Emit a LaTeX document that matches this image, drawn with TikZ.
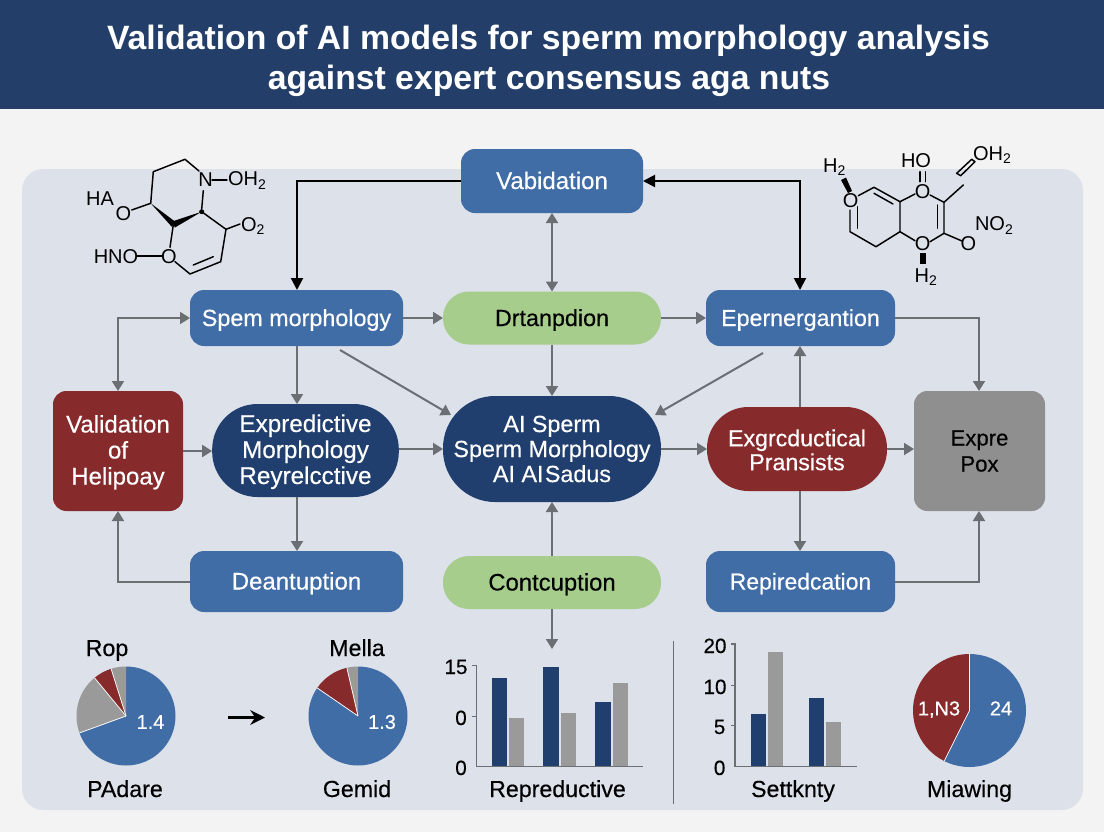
\documentclass[tikz,border=0pt]{standalone}
\usepackage{fontspec}
\setmainfont{Liberation Sans}
\newfontfamily\medfont[FakeBold=0.35]{Liberation Sans}
\usetikzlibrary{arrows.meta}
\definecolor{bgpage}{HTML}{F3F3F3}
\definecolor{panel}{HTML}{DCE1EA}
\definecolor{banner}{HTML}{223E69}
\definecolor{cblue}{HTML}{416DA7}
\definecolor{cnavy}{HTML}{213F6E}
\definecolor{cred}{HTML}{872A2C}
\definecolor{cgreen}{HTML}{A6CD8C}
\definecolor{cgray}{HTML}{8F8F8F}
\definecolor{cline}{HTML}{6B6E73}
\definecolor{cbar}{HTML}{9A9A9A}
\newcommand{\tf}[2]{\medfont\fontsize{#1}{#2}\selectfont}
\newcommand{\plainfont}[1]{\fontsize{#1}{#1}\selectfont}
\newcommand{\piewedge}[6]{\fill[#6] (#1,#2) -- +(#4:#3) arc (#4:#5:#3) -- cycle;}
\newcommand{\pieedge}[4]{\draw[white!70!panel,line width=0.6pt] (#1,#2) -- +(#4:#3);}
\tikzset{
 every node/.style={inner sep=0pt,outer sep=0pt},
 oneline/.style={text height=12pt,text depth=0pt},
 bluebox/.style={fill=cblue,text=white,rounded corners=10.5pt,oneline},
 greenpill/.style={fill=cgreen,text=black,rounded corners=19.5pt,oneline},
 multibox/.style={text=white,align=center,rounded corners=10pt},
 blackconn/.style={draw=black,line width=1.5pt,-{Triangle[length=9pt,width=9pt]}},
 blackdbl/.style={draw=black,line width=1.5pt,{Triangle[length=9pt,width=9pt]}-{Triangle[length=9pt,width=9pt]}},
 grayconn/.style={draw=cline,line width=1.5pt,-{Triangle[length=7.5pt,width=9pt]}},
 graydbl/.style={draw=cline,line width=1.5pt,{Triangle[length=7.5pt,width=9pt]}-{Triangle[length=7.5pt,width=9pt]}},
 mol/.style={draw=black,line width=1.1pt,line cap=round,line join=round},
 moltxt/.style={font=\plainfont{15}\selectfont,text=black},
 chartlab/.style={font=\tf{17.4}{17.5},text=black,oneline},
 ticklab/.style={font=\tf{15.5}{16},text=black,oneline},
 pieval/.style={font=\tf{15}{15},text=white,text height=11pt,text depth=0pt},
 axisline/.style={draw=cline,line width=0.9pt},
}
\begin{document}
\begin{tikzpicture}[x=0.75pt,y=-0.75pt]
\useasboundingbox (0,0) rectangle (1104,832);
\fill[bgpage] (0,0) rectangle (1104,832);
\fill[banner] (0,0) rectangle (1104,109);
\fill[panel,rounded corners=16pt] (22,169) rectangle (1083,810);
\node[text=white,font=\plainfont{25.3}\selectfont\bfseries,text height=18pt,text depth=0pt] (title1) at (548.5,37) {Validation of AI models for sperm morphology analysis};
\node[text=white,font=\plainfont{25.3}\selectfont\bfseries,text height=18pt,text depth=0pt] (title2) at (549,77) {against expert consensus aga nuts};

% main nodes
\node[bluebox,font=\tf{18}{19.5},minimum width=136.5pt,minimum height=48pt] (val) at (552,181) {Vabidation};
\node[bluebox,font=\tf{17.5}{19.5},minimum width=159.75pt,minimum height=42pt] (sperm) at (296.5,318) {Spem morphology};
\node[greenpill,font=\tf{17.5}{19.5},minimum width=163.5pt,minimum height=39.75pt] (drt) at (552,318) {Drtanpdion};
\node[bluebox,font=\tf{17.4}{19.5},minimum width=141.75pt,minimum height=42pt] (epe) at (800.5,318) {Epernergantion};
\node[multibox,fill=cred,font=\tf{18}{19.5},minimum width=97.5pt,minimum height=90pt] (vhl) at (118,451) {\rule{0pt}{15pt}Validation\\of\\Helipoay};
\node[multibox,fill=cnavy,rounded corners=34pt,font=\tf{18.2}{19.5},minimum width=140pt,minimum height=69.75pt] (exp) at (305.5,450.5) {\rule{0pt}{15pt}Expredictive\\Morphology\\Reyrelcctive};
\node[multibox,fill=cnavy,rounded corners=39pt,font=\tf{17.5}{18.75},minimum width=163.5pt,minimum height=79.5pt] (ais) at (552,449) {AI Sperm\\Sperm Morphology\\AI AI\kern1pt Sadus};
\node[multibox,fill=cred,rounded corners=31pt,font=\tf{17.4}{18},minimum width=135pt,minimum height=63pt] (exg) at (797,449) {\rule{0pt}{14pt}Exgrcductical\\Pransists};
\node[multibox,fill=cgray,text=black,font=\tf{16.6}{19.5},minimum width=98.25pt,minimum height=90pt] (pox) at (979.5,451) {Expre\\Pox};
\node[bluebox,font=\tf{18}{19.5},minimum width=159.75pt,minimum height=45.75pt] (dea) at (296.5,581.5) {Deantuption};
\node[greenpill,font=\tf{17.9}{19.5},minimum width=163.5pt,minimum height=39.75pt] (con) at (552,582.5) {Contcuption};
\node[bluebox,font=\tf{17.2}{19.5},minimum width=141.75pt,minimum height=45.75pt] (rep) at (800.5,581.5) {Repiredcation};

% free ends
\coordinate (cdown) at (552,649);
\coordinate (vl) at (297,181);
\coordinate (vr) at (800,181);
\coordinate (sl) at (118,318);
\coordinate (er) at (979,318);
\coordinate (dl) at (118,581.5);
\coordinate (rr) at (979,581.5);
\coordinate (sd) at (340,350);
\coordinate (ad) at (451,415);
\coordinate (ed) at (763,353);
\coordinate (bd) at (655,415);

% connectors
\draw[blackconn] (val.west) -- (vl) -- (vl |- sperm.north);
\draw[blackdbl] (val.east) -- (vr) -- (vr |- epe.north);
\draw[graydbl] (val.south) -- (drt.north);
\draw[grayconn] (sperm.east) -- (drt.west);
\draw[grayconn] (drt.east) -- (epe.west);
\draw[grayconn] (epe.east) -- (er) -- (er |- pox.north);
\draw[graydbl] (sperm.west) -- (sl) -- (sl |- vhl.north);
\draw[grayconn] (vl |- sperm.south) -- (vl |- exp.north);
\draw[grayconn] (sd) -- (ad);
\draw[grayconn] (drt.south) -- (ais.north);
\draw[grayconn] (ed) -- (bd);
\draw[grayconn] (vr |- exg.north) -- (vr |- epe.south);
\draw[grayconn] (vhl.east) -- (vhl.east -| exp.west);
\draw[grayconn] (ais.west -| exp.east) -- (ais.west);
\draw[grayconn] (ais.east) -- (exg.west);
\draw[grayconn] (exg.east) -- (exg.east -| pox.west);
\draw[grayconn] (vl |- exp.south) -- (vl |- dea.north);
\draw[grayconn] (con.north) -- (ais.south);
\draw[grayconn] (vr |- exg.south) -- (vr |- rep.north);
\draw[grayconn] (dea.west) -- (dl) -- (dl |- vhl.south);
\draw[grayconn] (rep.east) -- (rr) -- (rr |- pox.south);
\draw[grayconn] (con.south) -- (cdown);

% left molecule
\draw[mol] (131.7,210) -- (150.7,203.3) -- (153.3,171.7) -- (185,159.3) -- (199,171);
\draw[mol] (203.3,190.7) -- (201.7,209);
\fill (150.7,203.3) -- (175,221.5) -- (172,227) -- cycle;
\fill (201.7,211.7) -- (172,221.5) -- (175,227.5) -- cycle;
\fill (201.7,211.7) circle (2.5);
\draw[mol] (201.7,211.7) -- (226,229.3) -- (240,224);
\draw[mol] (226,229.3) -- (220.7,261.7) -- (190,274) -- (175,261.7);
\draw[mol] (213.3,256.7) -- (193.3,265);
\draw[mol] (173.3,225) -- (170,247.3);
\draw[mol] (137.3,256) -- (161.7,256);
\draw[mol] (212,180) -- (227,180);
\node[moltxt] (mN) at (205.5,180) {N};
\node[moltxt,anchor=west] (mOH) at (228,180.5) {OH\textsubscript{2}};
\node[moltxt] (mHA) at (100,199) {HA};
\node[moltxt] (mO1) at (123.5,213.5) {O};
\node[moltxt,anchor=west] (mO2) at (241,226) {O\textsubscript{2}};
\node[moltxt] (mO3) at (169,256.5) {O};
\node[moltxt] (mHNO) at (116,256.5) {HNO};

% right molecule
\fill (841,180) -- (846,177.5) -- (852,191) -- (848,193) -- cycle;
\draw[mol] (858.3,195.7) -- (874,187.3) -- (900,201.7) -- (915,194);
\draw[mol] (874,193.3) -- (893,204);
\draw[mol] (919.8,171.7) -- (919.8,181.7);
\draw[mol] (925.5,171.7) -- (925.5,181.7);
\draw[mol] (930,195) -- (944,202.3) -- (963.3,185);
\draw[mol] (956.7,173.3) -- (971.7,159.3) -- (975,161.7) -- (960.7,175.7) -- cycle;
\draw[mol] (944,202.3) -- (944,233.3) -- (930,241.7);
\draw[mol] (937.3,205) -- (937.3,228.3);
\draw[mol] (915,240.7) -- (900,231.7) -- (900,201.7);
\draw[mol] (900,231.7) -- (876,246.7) -- (850,231.7) -- (850,210);
\draw[mol] (857.3,228.3) -- (857.3,206.7);
\draw[mol] (944,233.3) -- (962,241);
\fill (920,253.3) rectangle (925.5,264);
\node[moltxt] (rH2a) at (834.5,167.5) {H\textsubscript{2}};
\node[moltxt] (rO1) at (850.7,201) {O};
\node[moltxt] (rHO) at (916,160.7) {HO};
\node[moltxt] (rO2) at (922.7,191.5) {O};
\node[moltxt,anchor=west] (rOH) at (973,155) {OH\textsubscript{2}};
\node[moltxt] (rO3) at (922.7,244) {O};
\node[moltxt] (rO4) at (968.3,244) {O};
\node[moltxt,anchor=west] (rNO) at (975,225.5) {NO\textsubscript{2}};
\node[moltxt] (rH2b) at (926,277) {H\textsubscript{2}};

% pies
\piewedge{126}{716}{49.5}{-90}{160}{cblue}
\piewedge{126}{716}{49.5}{160}{230.5}{cbar}
\piewedge{126}{716}{49.5}{230.5}{252.5}{cred}
\piewedge{126}{716}{49.5}{252.5}{270}{cbar}
\pieedge{126}{716}{49.5}{160}
\pieedge{126}{716}{49.5}{230.5}
\pieedge{126}{716}{49.5}{252.5}
\piewedge{358}{716}{49.5}{-90}{214.5}{cblue}
\piewedge{358}{716}{49.5}{214.5}{257}{cred}
\piewedge{358}{716}{49.5}{257}{270}{cbar}
\pieedge{358}{716}{49.5}{214.5}
\pieedge{358}{716}{49.5}{257}
\piewedge{969.5}{710.5}{56.5}{-90}{116.6}{cblue}
\piewedge{969.5}{710.5}{56.5}{116.6}{270}{cred}
\pieedge{969.5}{710.5}{56.5}{116.6}
\pieedge{969.5}{710.5}{56.5}{-90}
\node[chartlab] (lRop) at (107,648) {Rop};
\node[chartlab] (lPad) at (125,789) {PAdare};
\node[chartlab] (lMel) at (357,648) {Mella};
\node[chartlab] (lGem) at (357,789) {Gemid};
\node[pieval] (v14) at (150.5,721.5) {1.4};
\node[pieval] (v13) at (382,721.5) {1.3};
\node[pieval] (v1n) at (939,708) {1,N3};
\node[pieval] (v24) at (1001,708) {24};
\coordinate (aS) at (228,717.5);
\coordinate (aE) at (265,717.5);
\draw[draw=black,line width=2.3pt,-{Stealth[length=11pt,width=11pt]}] (aS) -- (aE);

% bar chart 1
\foreach \xa/\xb/\yt/\c in {491.9/507.4/678/cnavy,509/524.3/718/cbar,543.2/558.8/667.3/cnavy,560.5/576/713/cbar,595.4/611/702/cnavy,612.7/627.8/683.3/cbar}
  \fill[\c] (\xa,\yt) rectangle (\xb,766.3);
\draw[axisline] (472,665.7) -- (476.3,665.7) -- (476.3,766.3) -- (643.4,766.3);
\draw[axisline] (472,716.7) -- (476.3,716.7);
\node[ticklab] (t15) at (456,666) {15};
\node[ticklab] (t0a) at (461,717) {0};
\node[ticklab] (t0b) at (461,767) {0};
\node[chartlab] (lRep) at (557.5,789) {Repreductive};

% divider
\draw[draw=cline,line width=1pt] (673.3,641) -- (673.3,803.7);

% bar chart 2
\foreach \xa/\xb/\yt/\c in {750.7/765.9/714/cnavy,767.5/782.7/651.7/cbar,808.8/824/698.3/cnavy,825.6/840.8/721.7/cbar}
  \fill[\c] (\xa,\yt) rectangle (\xb,766.3);
\draw[axisline] (731,644) -- (735,644) -- (735,766.3) -- (857.2,766.3);
\draw[axisline] (731,685.3) -- (735,685.3);
\draw[axisline] (731,725.7) -- (735,725.7);
\node[ticklab] (t20) at (715,645) {20};
\node[ticklab] (t10) at (715,686) {10};
\node[ticklab] (t5) at (719.6,726) {5};
\node[ticklab] (t0c) at (719.6,767) {0};
\node[chartlab] (lSet) at (793,789) {Settknty};
\node[chartlab] (lMia) at (969.5,789) {Miawing};
\end{tikzpicture}
\end{document}
